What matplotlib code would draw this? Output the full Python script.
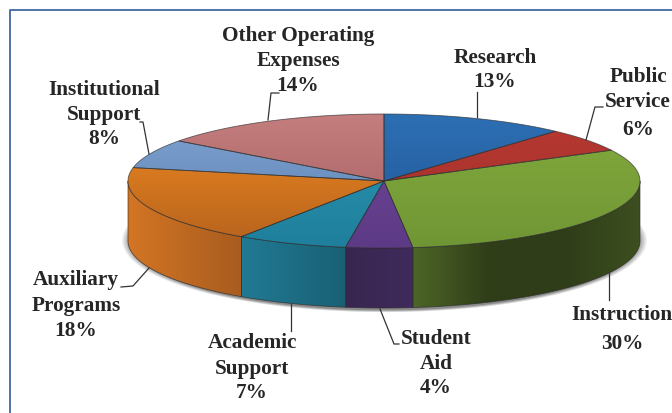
import numpy as np
import matplotlib
matplotlib.use("Agg")
import matplotlib.pyplot as plt
from matplotlib.colors import LinearSegmentedColormap
from matplotlib.patches import Polygon

# clockwise from 12 o'clock
categories = ["Research", "Public\nService", "Instruction", "Student\nAid", "Academic\nSupport",
              "Auxiliary\nPrograms", "Institutional\nSupport", "Other Operating\nExpenses"]
percent_labels = [13, 6, 30, 4, 7, 18, 8, 14]
# slice sizes as drawn (perspective makes them differ a little from the printed labels)
drawn_shares = [11.7, 5.7, 30.8, 4.2, 7.0, 18.8, 7.0, 14.8]

top_colors = [("#2d6fb3", "#1f5596"), ("#b83a32", "#a02c2a"), ("#84ab3e", "#6f9634"), ("#74489c", "#5c3a85"),
              ("#2b97b5", "#1f7f9c"), ("#f08a20", "#b5621e"), ("#7fa3d2", "#5a80ae"), ("#c47e7e", "#a55c5e")]
# colours of the outer wall, left to right on screen
side_colors = [("#1f4a80", "#1f4a80"), ("#7a2320", "#7a2320"), ("#4d6527", "#2f3d18", "#2f3d18", "#3d4f20"),
               ("#38264f", "#3f2b5c"), ("#207a93", "#1a6075"), ("#d37524", "#a85c1f"),
               ("#4d6e96", "#4d6e96"), ("#8a4f50", "#8a4f50")]

cx, cy = 384, 181
rx, ry = 256, 67
depth = 60

fig = plt.figure(figsize=(6.72, 4.13), dpi=100)
ax = fig.add_axes([0, 0, 1, 1])
ax.axis("off")


def rim(t, dy=0):
    return np.column_stack([cx + rx * np.sin(t), cy - ry * np.cos(t) + dy])


def fill_gradient(verts, colors, vertical=True, zorder=2, extent=None):
    poly = Polygon(verts, closed=True, facecolor="none", edgecolor="none", transform=ax.transData)
    ax.add_patch(poly)
    cmap = LinearSegmentedColormap.from_list("g", list(colors))
    grad = np.linspace(0, 1, 128)
    grad = grad[:, None] if vertical else grad[None, :]
    im = ax.imshow(grad, cmap=cmap, extent=extent, origin="upper", aspect="auto", zorder=zorder,
                   interpolation="bilinear")
    im.set_clip_path(poly)


# soft shadow behind the pie
yy, xx = np.mgrid[0:413, 0:672]
d = np.sqrt(((xx - cx) / 263.0) ** 2 + ((yy - (cy + depth - 1)) / 72.0) ** 2)
shadow = np.zeros((413, 672, 4))
shadow[..., :3] = 0.35
shadow[..., 3] = 0.7 * np.clip((1.0 - d) / 0.035, 0, 1)
ax.imshow(shadow, extent=(0, 672, 413, 0), aspect="auto", zorder=1)

edges = np.radians(np.concatenate([[0], np.cumsum(drawn_shares)]) * 3.6)

# side walls, only the front half of the ellipse shows
for i in range(len(drawn_shares)):
    a = max(edges[i], np.pi / 2)
    b = min(edges[i + 1], 3 * np.pi / 2)
    if a >= b:
        continue
    t = np.linspace(a, b, 80)
    verts = np.vstack([rim(t), rim(t[::-1], depth)])
    x0, x1 = verts[:, 0].min(), verts[:, 0].max()
    fill_gradient(verts, side_colors[i], vertical=False, zorder=2,
                  extent=(x0, x1, cy + ry + depth, cy - ry))
    ax.add_patch(Polygon(verts, closed=True, facecolor="none", edgecolor="#2b2b2b", linewidth=0.6, alpha=0.7, zorder=3))

# top face
for i in range(len(drawn_shares)):
    t = np.linspace(edges[i], edges[i + 1], 80)
    verts = np.vstack([[cx, cy], rim(t)])
    fill_gradient(verts, top_colors[i], zorder=4, extent=(cx - rx, cx + rx, cy + ry, cy - ry))
    ax.add_patch(Polygon(verts, closed=True, facecolor="none", edgecolor="#2e2e2e", linewidth=0.6, alpha=0.7, zorder=5))

# leader lines
leaders = [
    [(477, 117), (477, 92)],
    [(586, 140), (595, 107), (603, 107)],
    [(609, 273), (609, 300)],
    [(380, 309), (394, 344), (399, 344)],
    [(291, 304), (291, 331)],
    [(149, 268), (133, 286), (121, 287)],
    [(149, 154), (143, 122), (140, 122)],
    [(268, 120), (271, 93), (279, 93)],
]
for pts in leaders:
    pts = np.array(pts)
    ax.plot(pts[:, 0], pts[:, 1], color="#333333", linewidth=0.9, zorder=6)

# label centre x and the y of each text line
label_pos = [
    (495, [58, 82]),
    (638, [77, 102, 130]),
    (622, [315, 344]),
    (436, [339, 364, 388]),
    (252, [343, 369, 393]),
    (76, [280, 306, 331]),
    (104, [90, 115, 139]),
    (298, [36, 61, 86]),
]
for name, pct, (x, ys) in zip(categories, percent_labels, label_pos):
    lines = name.split("\n") + [f"{pct}%"]
    for line, y in zip(lines, ys):
        ax.text(x, y, line, ha="center", va="center", fontsize=15.3, fontweight="bold",
                family="Liberation Serif", color="#262626", zorder=7)

# chart frame, cut off at right and bottom
ax.plot([10, 10, 672], [413, 10, 10], color="#4f74a8", linewidth=1.4, zorder=8)

ax.set_xlim(0, 672)
ax.set_ylim(413, 0)
fig.savefig("out.png", dpi=100, facecolor="white")
